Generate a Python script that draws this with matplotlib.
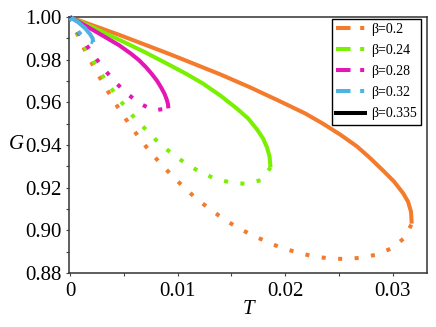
import matplotlib
matplotlib.use("Agg")
import matplotlib.pyplot as plt
from matplotlib.lines import Line2D
from matplotlib.ticker import MultipleLocator

plt.rcParams['font.family'] = ['Liberation Serif', 'DejaVu Serif']

# ---- data ----
betas = ["β=0.2", "β=0.24", "β=0.28", "β=0.32", "β=0.335"]
colors = ["#F47A2C", "#78F000", "#E416B4", "#4CB4E4", "#000000"]

T_solid_02 = [0, 0.002323, 0.004647, 0.006970, 0.009294, 0.011617, 0.013941, 0.016729,
              0.019517, 0.021840, 0.023513, 0.025093, 0.026673, 0.027881, 0.029089,
              0.030112, 0.030948, 0.031413, 0.031691, 0.031757]
G_solid_02 = [1.0, 0.99577, 0.99154, 0.98707, 0.98260, 0.97790, 0.97320, 0.96709,
              0.96051, 0.95487, 0.95002, 0.94499, 0.93935, 0.93394, 0.92807, 0.92290,
              0.91749, 0.91349, 0.90879, 0.90315]
T_dot_02 = [0, 0.000465, 0.001087, 0.001794, 0.002537, 0.003281, 0.004089, 0.004898,
            0.005762, 0.006664, 0.007593, 0.008615, 0.009665, 0.010753, 0.011831,
            0.013076, 0.014312, 0.015585, 0.016887, 0.018281, 0.019675, 0.021125,
            0.022612, 0.024099, 0.025558, 0.027109, 0.028559, 0.029954, 0.031069,
            0.031757]
G_dot_02 = [1.0, 0.99436, 0.98731, 0.98058, 0.97367, 0.96723, 0.96051, 0.95425,
            0.94805, 0.94184, 0.93592, 0.93028, 0.92463, 0.91946, 0.91443, 0.90973,
            0.90517, 0.90127, 0.89784, 0.89469, 0.89172, 0.88966, 0.88778, 0.88684,
            0.88655, 0.88716, 0.88871, 0.89172, 0.89642, 0.90301]

T_solid_024 = [0, 0.002323, 0.004647, 0.006970, 0.009294, 0.010874, 0.012361, 0.013941,
               0.015520, 0.016543, 0.017379, 0.017937, 0.018309, 0.018541, 0.018634]
G_solid_024 = [1.0, 0.99469, 0.98919, 0.98354, 0.97743, 0.97320, 0.96882, 0.96333,
               0.95707, 0.95252, 0.94734, 0.94311, 0.93888, 0.93465, 0.92948]
T_dot_024 = [0, 0.000994, 0.001701, 0.002537, 0.003374, 0.004229, 0.005158, 0.006134,
             0.007221, 0.008271, 0.009452, 0.010660, 0.011961, 0.013225, 0.014777,
             0.016264, 0.017723, 0.018634]
G_dot_024 = [1.0, 0.98933, 0.98307, 0.97635, 0.96977, 0.96380, 0.95769, 0.95190,
             0.94640, 0.94090, 0.93606, 0.93169, 0.92774, 0.92478, 0.92257, 0.92181,
             0.92351, 0.92948]

T_solid_028 = [0, 0.001115, 0.002323, 0.003439, 0.004554, 0.005669, 0.006413, 0.007063,
               0.007621, 0.008086, 0.008457, 0.008783, 0.008996, 0.009108, 0.009136]
G_solid_028 = [1.0, 0.99694, 0.99342, 0.99013, 0.98684, 0.98284, 0.97979, 0.97649,
               0.97320, 0.97014, 0.96709, 0.96403, 0.96121, 0.95910, 0.95722]
T_dot_028 = [0, 0.000558, 0.001394, 0.002258, 0.003188, 0.004182, 0.005270, 0.006441,
             0.007788, 0.009136]
G_dot_028 = [1.0, 0.99436, 0.98778, 0.98166, 0.97546, 0.96958, 0.96427, 0.95957,
             0.95628, 0.95722]

T_solid_032 = [0, 0.000743, 0.001394, 0.001859, 0.002091, 0.002165]
G_solid_032 = [1.0, 0.99765, 0.99483, 0.99201, 0.99013, 0.98825]
T_dot_032 = [0, 0.000372, 0.000743, 0.001208, 0.001673, 0.002165]
G_dot_032 = [1.0, 0.99624, 0.99342, 0.99060, 0.98872, 0.98825]

T_solid_0335 = [0, 0.00003]
G_solid_0335 = [1.0, 0.9998]

x_ticks = [0, 0.01, 0.02, 0.03]
x_ticklabels = ["0", "0.01", "0.02", "0.03"]
y_ticks = [0.88, 0.90, 0.92, 0.94, 0.96, 0.98, 1.00]
y_ticklabels = ["0.88", "0.90", "0.92", "0.94", "0.96", "0.98", "1.00"]

# ---- figure ----
W, H = 436, 327
fig = plt.figure(figsize=(W / 100, H / 100), dpi=100)
ax = fig.add_axes([69.3 / W, 1 - 273 / H, (426.7 - 69.3) / W, (273 - 16.5) / H])

LW = 2.9
DOT = (0, (1, 3.1))

solids = [(T_solid_02, G_solid_02), (T_solid_024, G_solid_024),
          (T_solid_028, G_solid_028), (T_solid_032, G_solid_032),
          (T_solid_0335, G_solid_0335)]
dots = [(T_dot_02, G_dot_02), (T_dot_024, G_dot_024), (T_dot_028, G_dot_028),
        (T_dot_032, G_dot_032), None]

for i in range(5):
    c = colors[i]
    ts, gs = solids[i]
    ax.plot(ts, gs, color=c, lw=LW, solid_capstyle='butt', clip_on=False, zorder=2 + i)
    if dots[i] is not None:
        td, gd = dots[i]
        ax.plot(td, gd, color=c, lw=LW, linestyle=DOT, clip_on=False, zorder=2 + i)

ax.set_xlim(-0.00007, 0.03315)
ax.set_ylim(0.88, 1.0003)

ax.set_xticks(x_ticks)
ax.set_xticklabels(x_ticklabels)
ax.set_yticks(y_ticks)
ax.set_yticklabels(y_ticklabels)
ax.xaxis.set_minor_locator(MultipleLocator(0.005))
ax.yaxis.set_minor_locator(MultipleLocator(0.01))
ax.tick_params(which='both', direction='out', length=2.5, width=0.8, color='#444444',
               labelsize=15, pad=3.2, top=False, right=False)
ax.tick_params(axis='x', which='both', pad=4.0)
ax.tick_params(which='minor', length=2.0)

for s in ax.spines.values():
    s.set_linewidth(1.1)
    s.set_color('#333333')

fig.text(16 / W, 1 - 145 / H, "G", fontsize=15, fontstyle='italic',
         ha='center', va='center')
fig.text(248 / W, 1 - 310 / H, "T", fontsize=15, fontstyle='italic',
         ha='center', va='center')

# ---- legend ----
handles = []
for i in range(4):
    handles.append(Line2D([], [], color=colors[i], lw=LW,
                          linestyle=(0, (3.6, 2.4, 1, 20))))
handles.append(Line2D([], [], color=colors[4], lw=LW))
leg = ax.legend(handles, betas, loc='upper right',
                bbox_to_anchor=(420.7 / W, 1 - 19 / H), bbox_transform=fig.transFigure,
                fontsize=10, frameon=True, fancybox=False, framealpha=1,
                edgecolor='black', handlelength=2.1, handletextpad=0.4,
                borderpad=0.3, labelspacing=0.58, borderaxespad=0)
leg.get_frame().set_linewidth(1.0)

fig.savefig("out.png", dpi=100)
